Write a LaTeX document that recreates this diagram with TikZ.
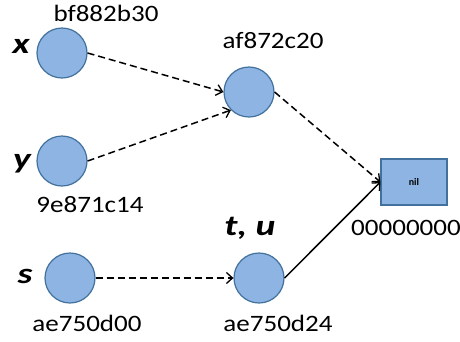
\documentclass[tikz,border=0pt]{standalone}
\usepackage{fontspec}
\usepackage{graphicx}
\setmainfont{Carlito}
\usetikzlibrary{arrows.meta}
\definecolor{cfill}{HTML}{8EB4E3}
\definecolor{cline}{HTML}{41719C}
\newcommand{\widetxt}[1]{\scalebox{1.15}[1]{#1}}
\newcommand{\vartxt}[1]{\scalebox{1.3}[1]{\bfseries\itshape #1}}
\tikzset{
  obj/.style={circle, minimum size=50pt, inner sep=0pt, fill=cfill, draw=cline, line width=1.2pt},
  box/.style={rectangle, minimum width=66pt, minimum height=46pt, inner sep=0pt, fill=cfill, draw=cline, line width=1.2pt},
  addr/.style={anchor=base, inner sep=0pt, font=\fontsize{23.5}{23.5}\selectfont},
  var/.style={anchor=base, inner sep=0pt, font=\fontsize{29}{29}\selectfont},
  ptr/.style={line width=1.5pt, -{Straight Barb[length=6pt,width=11pt,line width=1.3pt]}},
  dptr/.style={ptr, dash pattern=on 7pt off 4pt}
}
\begin{document}
\begin{tikzpicture}[x=1pt,y=-1pt]
\useasboundingbox (0,0) rectangle (460,341);
\node[obj] (x) at (62,53) {};
\node[obj] (y) at (62,161) {};
\node[obj] (af) at (249,92) {};
\node[obj] (s) at (70,278) {};
\node[obj] (t) at (259,278) {};
\node[box] (nil) at (414,182) {\fontsize{10}{10}\selectfont\bfseries nil};

\node[addr] (lx) at (106,21) {\widetxt{bf882b30}};
\node[addr] (laf) at (273,48) {\widetxt{af872c20}};
\node[addr] (ly) at (90,212) {\widetxt{9e871c14}};
\node[addr] (ls) at (87,331) {\widetxt{ae750d00}};
\node[addr] (lt) at (278,331) {\widetxt{ae750d24}};
\node[addr] (lnil) at (406,235) {\widetxt{00000000}};

\node[var] (vx) at (21,53) {\vartxt{x}};
\node[var] (vy) at (22,168) {\vartxt{y}};
\node[var] (vs) at (25,283) {\vartxt{s}};
\node[var] (vt) at (250,235) {\vartxt{t, u}};

\draw[dptr] (x.east) -- (af.west);
\draw[dptr] (y.east) -- (af.south west);
\draw[dptr] (af.east) -- (nil.west);
\draw[dptr] (s.east) -- (t.west);
\draw[ptr] (t.east) -- (nil.west);
\end{tikzpicture}
\end{document}
